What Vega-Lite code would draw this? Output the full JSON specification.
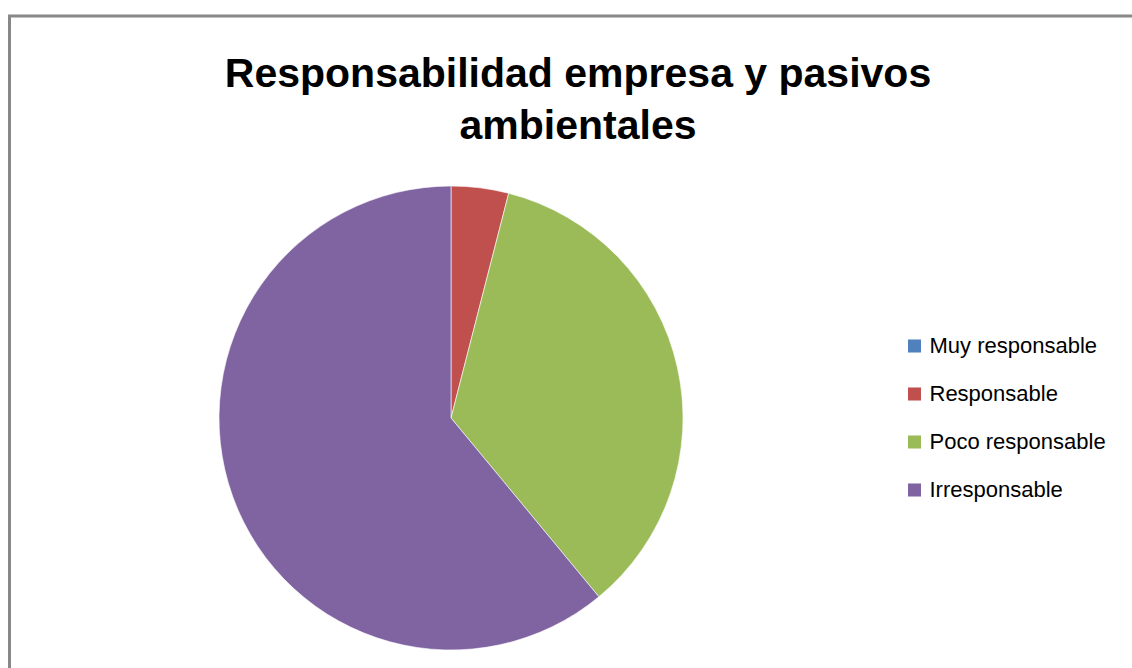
{
  "$schema": "https://vega.github.io/schema/vega-lite/v6.json",
  "autosize": "none",
  "width": 1127,
  "height": 656,
  "padding": {"left": 9.5, "top": 16, "right": -4.5, "bottom": -4},
  "background": "white",
  "title": {
    "text": ["Responsabilidad empresa y pasivos", "ambientales"],
    "font": "Liberation Sans",
    "fontSize": 41,
    "fontWeight": "bold",
    "color": "black",
    "lineHeight": 52,
    "anchor": "middle",
    "frame": "group",
    "dx": 5,
    "baseline": "alphabetic",
    "offset": -164
  },
  "config": {
    "view": {"stroke": "#888888", "strokeWidth": 3}
  },
  "data": {
    "values": [
      {"categoria": "Muy responsable", "valor": 0, "orden": 1},
      {"categoria": "Responsable", "valor": 4, "orden": 2},
      {"categoria": "Poco responsable", "valor": 35, "orden": 3},
      {"categoria": "Irresponsable", "valor": 61, "orden": 4}
    ]
  },
  "mark": {"type": "arc", "outerRadius": 232, "stroke": "white", "strokeWidth": 0.6},
  "encoding": {
    "theta": {"field": "valor", "type": "quantitative", "stack": true},
    "order": {"field": "orden", "type": "quantitative"},
    "x": {"value": 441.5},
    "y": {"value": 402},
    "color": {
      "field": "categoria",
      "type": "nominal",
      "sort": ["Muy responsable", "Responsable", "Poco responsable", "Irresponsable"],
      "scale": {
        "domain": ["Muy responsable", "Responsable", "Poco responsable", "Irresponsable"],
        "range": ["#4F81BD", "#C0504D", "#9BBB59", "#8064A2"]
      },
      "legend": {
        "title": null,
        "orient": "none",
        "legendX": 894,
        "legendY": 319,
        "symbolType": "square",
        "symbolSize": 170,
        "symbolStrokeWidth": 0,
        "labelFont": "Liberation Sans",
        "labelFontSize": 22,
        "labelColor": "black",
        "labelLimit": 300,
        "rowPadding": 26,
        "labelOffset": 4
      }
    }
  }
}
